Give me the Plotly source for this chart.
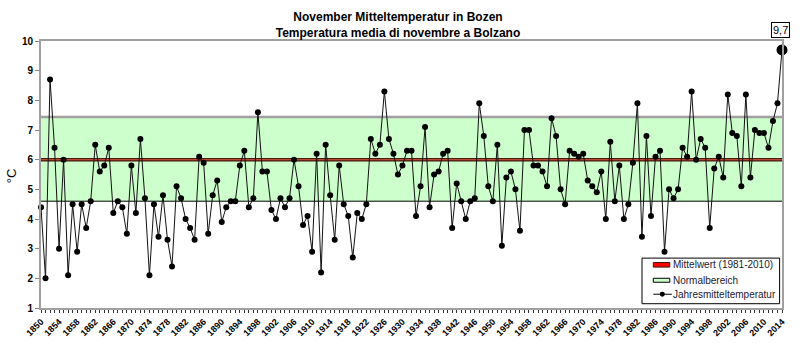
import plotly.graph_objects as go

years = list(range(1850, 2015))
temps = [
    4.4, 2.0, 8.7, 6.4, 3.0, 6.0, 2.1, 4.5, 2.9, 4.5,
    3.7, 4.6, 6.5, 5.6, 5.8, 6.4, 4.2, 4.6, 4.4, 3.5,
    5.8, 4.2, 6.7, 4.7, 2.1, 4.5, 3.4, 4.8, 3.3, 2.4,
    5.1, 4.7, 4.0, 3.7, 3.3, 6.1, 5.9, 3.5, 4.8, 5.3,
    3.9, 4.4, 4.6, 4.6, 5.8, 6.3, 4.4, 4.7, 7.6, 5.6,
    5.6, 4.3, 4.0, 4.7, 4.4, 4.7, 6.0, 5.1, 3.8, 4.1,
    2.9, 6.2, 2.2, 6.5, 4.8, 3.3, 5.8, 4.5, 4.1, 2.7,
    4.2, 4.0, 4.5, 6.7, 6.2, 6.5, 8.3, 6.7, 6.2, 5.5,
    5.8, 6.3, 6.3, 4.1, 5.1, 7.1, 4.4, 5.5, 5.6, 6.2,
    6.3, 3.7, 5.2, 4.6, 4.0, 4.6, 4.7, 7.9, 6.8, 5.1,
    4.6, 6.5, 3.1, 5.4, 5.6, 5.0, 3.6, 7.0, 7.0, 5.8,
    5.8, 5.6, 5.1, 7.4, 6.8, 5.0, 4.5, 6.3, 6.2, 6.1,
    6.2, 5.3, 5.1, 4.9, 5.6, 4.0, 6.6, 4.6, 5.8, 4.0,
    4.5, 5.9, 7.9, 3.4, 6.8, 4.1, 6.1, 6.3, 2.9, 5.0,
    4.7, 5.0, 6.4, 6.1, 8.3, 6.0, 6.7, 6.4, 3.7, 5.7,
    6.1, 5.4, 8.2, 6.9, 6.8, 5.1, 8.2, 5.4, 7.0, 6.9,
    6.9, 6.4, 7.3, 7.9, 9.7,
]
mean_value = 6.0
normal_low = 4.6
normal_high = 7.44
last_label = "9,7"
label_years = years[::4]
tick_labels = [str(y) for y in label_years]

W, H = 800, 349
L, R, T, B = 40.7, 781.7, 40.7, 308.3

def px(x):
    return (x - L) / (R - L)

def py(y):
    return (B - y) / (B - T)

fig = go.Figure()

x_ends = [years[0], years[-1]]
# normal range band
fig.add_trace(go.Scatter(x=x_ends, y=[normal_low, normal_low], mode="lines",
                         line=dict(width=0, color="rgba(0,0,0,0)"), hoverinfo="skip"))
fig.add_trace(go.Scatter(x=x_ends, y=[normal_high, normal_high], mode="lines",
                         fill="tonexty", fillcolor="#ccffcc",
                         line=dict(width=2.5, color="#a0a0a0"), hoverinfo="skip"))
fig.add_trace(go.Scatter(x=x_ends, y=[normal_low, normal_low], mode="lines",
                         line=dict(width=1, color="#000000"), hoverinfo="skip"))
# mean
fig.add_trace(go.Scatter(x=x_ends, y=[mean_value, mean_value], mode="lines",
                         line=dict(width=3.5, color="#4a1a0e"), hoverinfo="skip"))
fig.add_trace(go.Scatter(x=x_ends, y=[mean_value, mean_value], mode="lines",
                         line=dict(width=1.2, color="#b84a32"), hoverinfo="skip"))
# data
fig.add_trace(go.Scatter(x=years, y=temps, mode="lines+markers",
                         line=dict(width=1, color="#111111"),
                         marker=dict(size=6, color="#000000"),
                         cliponaxis=False))
fig.add_trace(go.Scatter(x=[years[-1]], y=[temps[-1]], mode="markers",
                         marker=dict(size=11, color="#000000"),
                         cliponaxis=False))

fig.add_annotation(x=years[-1], y=temps[-1], xref="x", yref="y",
                   text=last_label, showarrow=False, yshift=20, xshift=-2,
                   font=dict(family="Liberation Sans, Arial", size=11, color="#000"),
                   bgcolor="white", bordercolor="#000", borderwidth=1, borderpad=1)

# y-axis title
fig.add_annotation(x=px(12), y=py(176), xref="paper", yref="paper",
                   text="°C", textangle=-90, showarrow=False,
                   font=dict(family="Liberation Sans, Arial", size=13, color="#000"),
                   xanchor="center", yanchor="middle")

# legend box (manual)
lx0, lx1, ly0, ly1 = 641.7, 779.3, 258.3, 304.0
fig.add_shape(type="rect", xref="paper", yref="paper",
              x0=px(lx0), x1=px(lx1), y0=py(ly1), y1=py(ly0),
              line=dict(color="#000", width=1), fillcolor="white", layer="above")
rows = [265.0, 280.5, 294.5]
labels = ["Mittelwert (1981-2010)", "Normalbereich", "Jahresmitteltemperatur"]
fig.add_shape(type="rect", xref="paper", yref="paper",
              x0=px(653), x1=px(669.5), y0=py(rows[0] + 2.3), y1=py(rows[0] - 2.3),
              line=dict(color="#3a1a10", width=1), fillcolor="#ff0000", layer="above")
fig.add_shape(type="rect", xref="paper", yref="paper",
              x0=px(653), x1=px(669.5), y0=py(rows[1] + 2), y1=py(rows[1] - 2),
              line=dict(color="#000", width=1), fillcolor="#ccffcc", layer="above")
fig.add_shape(type="line", xref="paper", yref="paper",
              x0=px(653), x1=px(671.5), y0=py(rows[2]), y1=py(rows[2]),
              line=dict(color="#000", width=1), layer="above")
fig.add_shape(type="circle", xref="paper", yref="paper",
              x0=px(659.5), x1=px(664.5), y0=py(rows[2] + 2.5), y1=py(rows[2] - 2.5),
              line=dict(color="#000", width=0), fillcolor="#000", layer="above")
for r, t in zip(rows, labels):
    fig.add_annotation(x=px(670.5), y=py(r), xref="paper", yref="paper",
                       text=t, showarrow=False, xanchor="left", yanchor="middle",
                       font=dict(family="Liberation Sans, Arial", size=10, color="#1a1a33"))

fig.update_layout(
    width=W, height=H,
    margin=dict(l=L, r=W - R, t=T, b=H - B, pad=0),
    paper_bgcolor="white", plot_bgcolor="white",
    showlegend=False,
    title=dict(text="November Mitteltemperatur in Bozen<br>Temperatura media di novembre a Bolzano",
               x=398 / W, xanchor="center", y=1 - 21 / H, yanchor="middle",
               font=dict(family="Liberation Sans, Arial", size=12, color="#000", weight="bold")),
    xaxis=dict(range=[years[0], years[-1]], tickmode="array", tickvals=label_years,
               ticktext=tick_labels, tickangle=-45, ticks="outside", ticklen=3,
               tickcolor="#333", tickwidth=1,
               minor=dict(tick0=years[0], dtick=1, ticks="outside", ticklen=3,
                          tickcolor="#333", tickwidth=1, showgrid=False),
               tickfont=dict(family="Liberation Sans, Arial", size=9, color="#000", weight="bold"),
               showgrid=False, zeroline=False, showline=True, linecolor="#a0a0a0",
               linewidth=2, mirror=True),
    yaxis=dict(range=[1, 10], tickmode="linear", tick0=1, dtick=1, ticks="outside",
               ticklen=4, tickcolor="#888", tickwidth=1,
               tickfont=dict(family="Liberation Sans, Arial", size=10, color="#000", weight="bold"),
               showgrid=False, zeroline=False, showline=True, linecolor="#a0a0a0",
               linewidth=2, mirror=True),
)

fig.write_html("out.html")
